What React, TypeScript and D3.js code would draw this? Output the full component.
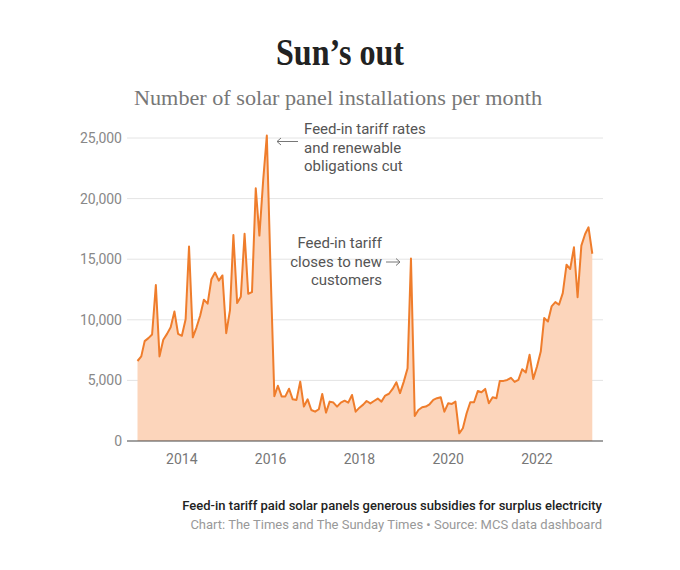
import React from "react";
import * as d3 from "d3";

const startYear = 2013;
const installs: number[] = [
  6600, 6980, 8240, 8490, 8790, 12870, 6980, 8350, 8840, 9390, 10680, 8840,
  8680, 10050, 16050, 8550, 9360, 10350, 11660, 11330, 13350, 13900, 13230, 13660,
  8900, 10800, 17000, 11380, 11900, 17100, 12150, 12280, 20850, 16950, 21500, 25200,
  14000, 3700, 4560, 3680, 3680, 4310, 3440, 3390, 4900, 2840, 3440, 2560,
  2420, 2620, 3880, 2340, 3250, 3170, 2840, 3170, 3330, 3170, 3800, 2420,
  2750, 3000, 3300, 3100, 3300, 3500, 3250, 3750, 3900, 4300, 4850, 3950,
  4900, 6000, 15050, 2070, 2560, 2780, 2840, 3030, 3390, 3530, 3610, 2420,
  3110, 3060, 3250, 630, 1050, 2290, 3200, 3200, 4130, 4020, 4300, 3110,
  3610, 3530, 4960, 4960, 5040, 5210, 4880, 5040, 5920, 5650, 7110, 5120,
  6140, 7380, 10140, 9860, 11100, 11460, 11240, 12200, 14550, 14190, 15980, 11870,
  16120, 17080, 17630, 15450,
];
const months: Date[] = installs.map((_, i) => new Date(startYear, i, 1));
const yTicks = [0, 5000, 10000, 15000, 20000, 25000];
const xTickYears = [2014, 2016, 2018, 2020, 2022];

const title = "Sun’s out";
const subtitle = "Number of solar panel installations per month";
const note1 = ["Feed-in tariff rates", "and renewable", "obligations cut"];
const note2 = ["Feed-in tariff", "closes to new", "customers"];
const footer1 = "Feed-in tariff paid solar panels generous subsidies for surplus electricity";
const footer2 = "Chart: The Times and The Sunday Times • Source: MCS data dashboard";

const W = 680;
const H = 570;
const sans = "Roboto, 'Noto Sans', sans-serif";
const serif = "'Liberation Serif', 'DejaVu Serif', serif";

export default function App() {
  const x = d3
    .scaleTime()
    .domain([months[0], months[months.length - 1]])
    .range([137.5, 592.3]);
  const y = d3.scaleLinear().domain([0, 25000]).range([441, 138]);
  const fmt = d3.format(",");

  const data = months.map((d, i) => ({ d, v: installs[i] }));
  const line = d3
    .line<{ d: Date; v: number }>()
    .x((p) => x(p.d))
    .y((p) => y(p.v));
  const area = d3
    .area<{ d: Date; v: number }>()
    .x((p) => x(p.d))
    .y0(y(0))
    .y1((p) => y(p.v));

  const gridX0 = 127;
  const gridX1 = 603;

  return (
    <svg
      width={W}
      height={H}
      viewBox={`0 0 ${W} ${H}`}
      style={{ position: "absolute", left: 0, top: 0, display: "block", background: "#fff" }}
    >
      <rect x={0} y={0} width={W} height={H} fill="#fff" />
      <text
        x={W / 2}
        y={65}
        textAnchor="middle"
        fontFamily={serif}
        fontWeight={700}
        fontSize={37}
        fill="#222"
        textLength={128}
        lengthAdjust="spacingAndGlyphs"
      >
        {title}
      </text>
      <text
        x={338}
        y={105}
        textAnchor="middle"
        fontFamily={serif}
        fontSize={22}
        fill="#777"
        textLength={408}
        lengthAdjust="spacingAndGlyphs"
      >
        {subtitle}
      </text>

      {yTicks.map((t) => (
        <g key={t}>
          {t > 0 && (
            <line x1={gridX0} x2={gridX1} y1={y(t)} y2={y(t)} stroke="#e4e4e4" strokeWidth={1} />
          )}
          <text
            x={122}
            y={y(t) + 5}
            textAnchor="end"
            fontFamily={sans}
            fontSize={14}
            fill="#888"
          >
            {fmt(t)}
          </text>
        </g>
      ))}

      <path d={area(data) || ""} fill="#fcd5bb" />
      <path d={line(data) || ""} fill="none" stroke="#ef7d2c" strokeWidth={2} strokeLinejoin="round" />

      <line x1={gridX0} x2={gridX1} y1={y(0)} y2={y(0)} stroke="#444" strokeWidth={1.2} />
      {xTickYears.map((yr) => (
        <text
          key={yr}
          x={x(new Date(yr, 0, 1))}
          y={464}
          textAnchor="middle"
          fontFamily={sans}
          fontSize={14}
          fill="#777"
        >
          {yr}
        </text>
      ))}

      {/* annotation 1 */}
      {note1.map((s, i) => (
        <text key={s} x={304} y={134 + i * 18.5} fontFamily={sans} fontSize={15} fill="#555">
          {s}
        </text>
      ))}
      <g stroke="#777" strokeWidth={1} fill="none">
        <line x1={277} x2={298} y1={141.5} y2={141.5} />
        <polyline points="281,138 277,141.5 281,145" />
      </g>

      {/* annotation 2 */}
      {note2.map((s, i) => (
        <text
          key={s}
          x={382}
          y={248 + i * 18.5}
          textAnchor="end"
          fontFamily={sans}
          fontSize={15}
          fill="#555"
        >
          {s}
        </text>
      ))}
      <g stroke="#777" strokeWidth={1} fill="none">
        <line x1={386} x2={400} y1={262} y2={262} />
        <polyline points="396,258.5 400,262 396,265.5" />
      </g>

      <text x={602} y={510} textAnchor="end" fontFamily={sans} fontSize={13} fontWeight={500} fill="#222">
        {footer1}
      </text>
      <text x={602} y={529} textAnchor="end" fontFamily={sans} fontSize={13} fill="#999">
        {footer2}
      </text>
    </svg>
  );
}
